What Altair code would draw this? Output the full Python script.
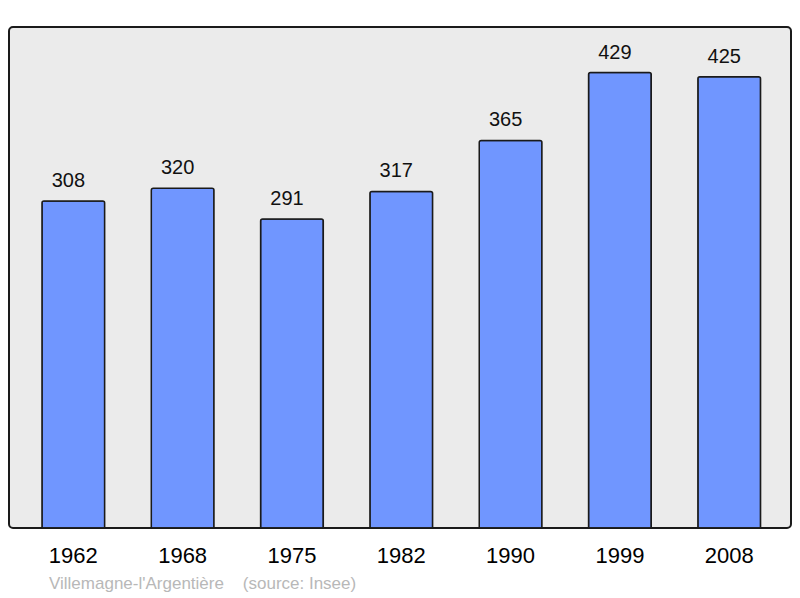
import altair as alt
import pandas as pd

years = ["1962", "1968", "1975", "1982", "1990", "1999", "2008"]
population = [308, 320, 291, 317, 365, 429, 425]
caption = "Villemagne-l'Argentière\u00a0\u00a0\u00a0\u00a0(source: Insee)"

df = pd.DataFrame({"year": years, "pop": population})

FONT = "Liberation Sans"

x = alt.X(
    "year:N",
    sort=years,
    scale=alt.Scale(paddingInner=0.4265, paddingOuter=0.29, align=0.52),
    axis=alt.Axis(
        title=None,
        labelAngle=0,
        labelFontSize=22,
        labelFont=FONT,
        labelColor="#000000",
        domain=False,
        ticks=False,
        labelPadding=17,
    ),
)
y = alt.Y("pop:Q", scale=alt.Scale(domain=[0, 471.9], nice=False, zero=True), axis=None)

bars = alt.Chart(df).mark_bar(
    color="#7096ff",
    stroke="#1a1a1a",
    strokeWidth=1.5,
    cornerRadiusTopLeft=2,
    cornerRadiusTopRight=2,
).encode(x=x, y=y)

labels = alt.Chart(df).mark_text(
    baseline="alphabetic",
    dy=-14,
    dx=-5,
    fontSize=20,
    font=FONT,
    color="#111111",
).encode(x=x, y=y, text="pop:Q")

chart = (
    (bars + labels)
    .properties(
        width=782,
        height=501,
        padding={"left": 1, "top": 19, "right": 1, "bottom": 66},
        autosize=alt.AutoSizeParams(type="none"),
        title=alt.TitleParams(
            caption,
            orient="bottom",
            anchor="start",
            dx=40,
            offset=10,
            fontSize=17,
            font=FONT,
            fontWeight="normal",
            color="#b8b8b8",
        ),
    )
    .configure_view(fill="#ebebeb", stroke="#1a1a1a", strokeWidth=2, cornerRadius=4)
)

chart.save("out.html", embed_options={"renderer": "svg", "actions": False})
